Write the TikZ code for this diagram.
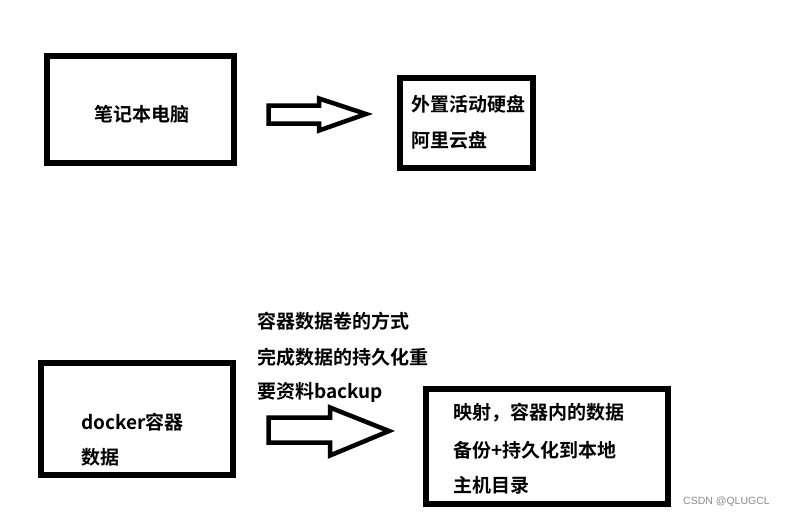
\documentclass[tikz,border=0pt]{standalone}
\usepackage{fontspec}
\newfontfamily\cjk{Noto Sans CJK SC Bold}
\newfontfamily\wm{Liberation Sans}
\begin{document}
\begin{tikzpicture}[x=1pt,y=-1pt,
  box/.style={draw=black,line width=6pt},
  blockarrow/.style={draw=black,line width=4.5pt,line join=miter,fill=white},
  txt/.style={anchor=west,inner sep=0pt,font=\cjk\fontsize{19}{20}\selectfont},
  ctxt/.style={inner sep=0pt,font=\cjk\fontsize{19}{20}\selectfont},
  wmark/.style={anchor=west,inner sep=0pt,text=black!45,font=\wm\fontsize{10.5}{12}\selectfont}]
\useasboundingbox (0,0) rectangle (785,517);
\fill[white] (0,0) rectangle (785,517);
% boxes
\draw[box] (47,56) rectangle (234,163);
\draw[box] (400,78) rectangle (533,168);
\draw[box] (41,363) rectangle (233,475);
\draw[box] (426,389) rectangle (668,504);
% block arrows
\draw[blockarrow] (268.5,105.5) -- (319,105.5) -- (319,98.5) -- (366,114) -- (319,130.5) -- (319,123.5) -- (268.5,123.5) -- cycle;
\draw[blockarrow] (268.5,417.5) -- (330,417.5) -- (330,407.5) -- (389,431) -- (330,455.5) -- (330,442.5) -- (268.5,442.5) -- cycle;
% texts
\node[ctxt] (t1) at (142,114) {笔记本电脑};
\node[txt] (t2a) at (411,104) {外置活动硬盘};
\node[txt] (t2b) at (411,140) {阿里云盘};
\node[txt] (t3a) at (257,321) {容器数据卷的方式};
\node[txt] (t3b) at (257,357) {完成数据的持久化重};
\node[txt] (t3c) at (257,392) {要资料backup};
\node[txt] (t4a) at (81,422) {docker容器};
\node[txt] (t4b) at (81,457) {数据};
\node[txt] (t5a) at (453,413) {映射，容器内的数据};
\node[txt] (t5b) at (453,450) {备份+持久化到本地};
\node[txt] (t5c) at (453,485) {主机目录};
\node[wmark] (wm) at (683,502) {CSDN @QLUGCL};
\end{tikzpicture}
\end{document}
